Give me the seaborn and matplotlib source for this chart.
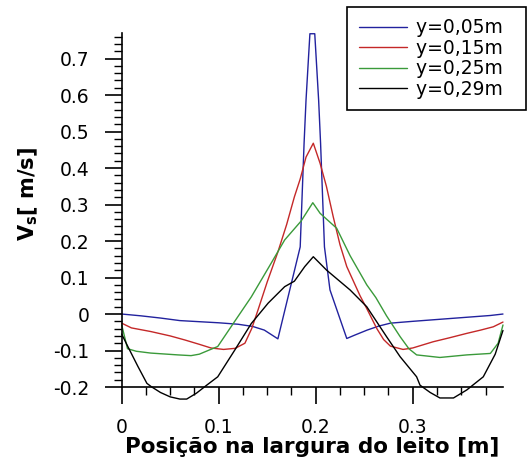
import pandas as pd
import seaborn as sns
import matplotlib.pyplot as plt
import matplotlib.ticker as ticker

# --- values (x in m, Vs in m/s) ---
x_005 = [0.000, 0.020, 0.040, 0.060, 0.080, 0.100, 0.120, 0.135, 0.147, 0.161,
         0.184, 0.188, 0.190, 0.1925, 0.194, 0.199, 0.2005, 0.203, 0.205, 0.209,
         0.2147, 0.232, 0.240, 0.253, 0.265, 0.277, 0.300, 0.320, 0.340, 0.360,
         0.380, 0.393]
vs_005 = [0.000, -0.005, -0.011, -0.018, -0.021, -0.024, -0.028, -0.034, -0.044, -0.068,
          0.184, 0.468, 0.586, 0.700, 0.768, 0.768, 0.700, 0.586, 0.468, 0.184,
          0.066, -0.067, -0.058, -0.044, -0.033, -0.025, -0.020, -0.016, -0.012, -0.008,
          -0.004, 0.000]

x_015 = [0.000, 0.010, 0.030, 0.050, 0.065, 0.080, 0.092, 0.105, 0.117, 0.127,
         0.134, 0.1405, 0.150, 0.161, 0.170, 0.178, 0.184, 0.190, 0.1975, 0.2045,
         0.211, 0.218, 0.225, 0.232, 0.2457, 0.2526, 0.263, 0.270, 0.277, 0.290,
         0.300, 0.321, 0.338, 0.3557, 0.370, 0.383, 0.393]
vs_015 = [-0.025, -0.038, -0.048, -0.060, -0.071, -0.083, -0.093, -0.097, -0.094, -0.080,
          -0.040, 0.011, 0.088, 0.170, 0.245, 0.321, 0.370, 0.430, 0.468, 0.413,
          0.350, 0.267, 0.190, 0.130, 0.050, 0.015, -0.040, -0.070, -0.088, -0.097,
          -0.093, -0.076, -0.065, -0.053, -0.044, -0.035, -0.022]

x_025 = [0.000, 0.006, 0.015, 0.030, 0.058, 0.0715, 0.080, 0.089, 0.099, 0.1165,
         0.1336, 0.154, 0.168, 0.185, 0.197, 0.2045, 0.2216, 0.2354, 0.2526, 0.262,
         0.273, 0.287, 0.296, 0.304, 0.328, 0.3557, 0.380, 0.388, 0.393]
vs_025 = [-0.030, -0.095, -0.102, -0.107, -0.112, -0.114, -0.110, -0.100, -0.089, -0.020,
          0.047, 0.139, 0.203, 0.255, 0.305, 0.276, 0.235, 0.160, 0.080, 0.045,
          -0.005, -0.062, -0.095, -0.112, -0.119, -0.112, -0.108, -0.080, -0.030]

x_029 = [0.000, 0.0065, 0.0168, 0.026, 0.0305, 0.040, 0.050, 0.060, 0.067, 0.077,
         0.0876, 0.099, 0.1165, 0.1336, 0.151, 0.168, 0.178, 0.1887, 0.1975, 0.2113,
         0.2354, 0.2526, 0.273, 0.287, 0.304, 0.3075, 0.318, 0.328, 0.342, 0.3557,
         0.3727, 0.385, 0.393]
vs_029 = [-0.055, -0.090, -0.144, -0.190, -0.199, -0.215, -0.227, -0.233, -0.233, -0.217,
          -0.195, -0.172, -0.099, -0.026, 0.030, 0.075, 0.090, 0.130, 0.157, 0.120,
          0.066, 0.020, -0.062, -0.117, -0.172, -0.195, -0.215, -0.230, -0.230, -0.208,
          -0.172, -0.110, -0.045]

labels = ['y=0,05m', 'y=0,15m', 'y=0,25m', 'y=0,29m']
colors = ['#22229e', '#c42828', '#3a9a3a', '#000000']

# long-form table for seaborn
parts = []
for lab, xs, ys in zip(labels, [x_005, x_015, x_025, x_029],
                       [vs_005, vs_015, vs_025, vs_029]):
    parts.append(pd.DataFrame({'x': xs, 'vs': ys, 'serie': lab}))
df = pd.concat(parts, ignore_index=True)

sns.set_style('ticks')
plt.rcParams['font.family'] = ['DejaVu Sans']
plt.rcParams['axes.unicode_minus'] = False
plt.rcParams['text.color'] = 'black'
plt.rcParams['axes.labelcolor'] = 'black'

fig = plt.figure(figsize=(5.3, 4.65), dpi=100)
ax = fig.add_axes([0.2296, 0.1677, 0.7194, 0.7613])

sns.lineplot(data=df, x='x', y='vs', hue='serie', hue_order=labels,
             palette=colors, estimator=None, sort=False, lw=1.0,
             legend=False, ax=ax)
for ln in ax.lines:
    ln.set_clip_on(False)

ax.set_xlim(0, 0.393)
ax.set_ylim(-0.2, 0.77)
sns.despine(ax=ax)
for s in ('left', 'bottom'):
    ax.spines[s].set_linewidth(1.2)
    ax.spines[s].set_color('black')

fmt = ticker.FuncFormatter(lambda v, p: '0' if abs(v) < 1e-9 else f'{v:.1f}')
ax.xaxis.set_major_locator(ticker.MultipleLocator(0.1))
ax.xaxis.set_minor_locator(ticker.MultipleLocator(0.025))
ax.yaxis.set_major_locator(ticker.MultipleLocator(0.1))
ax.yaxis.set_minor_locator(ticker.MultipleLocator(0.02))
ax.xaxis.set_major_formatter(fmt)
ax.yaxis.set_major_formatter(fmt)

ax.tick_params(which='major', direction='out', length=12, width=1.2,
               labelsize=13.5, colors='black')
ax.tick_params(which='minor', direction='out', length=6, width=1.0, colors='black')
ax.tick_params(axis='x', which='major', pad=10)
ax.tick_params(axis='y', which='major', pad=11)

ax.set_xlabel('Posição na largura do leito [m]', fontsize=15.5,
              fontweight='bold', labelpad=0)
ax.set_ylabel(r'V$_\mathbf{s}$[ m/s]', fontsize=15, fontweight='bold')
ax.yaxis.set_label_coords(-0.215, 0.545)

leg = fig.legend(ax.lines, [lab + '  ' for lab in labels], loc='upper right',
                 bbox_to_anchor=(526 / 530, 1 - 7 / 465),
                 fontsize=13.5, frameon=True, fancybox=False,
                 edgecolor='black', framealpha=1, handlelength=2.6,
                 handletextpad=0.45, labelspacing=0.08, borderpad=0.6,
                 borderaxespad=0)
leg.get_frame().set_linewidth(1.2)

fig.savefig('out.png', dpi=100)
